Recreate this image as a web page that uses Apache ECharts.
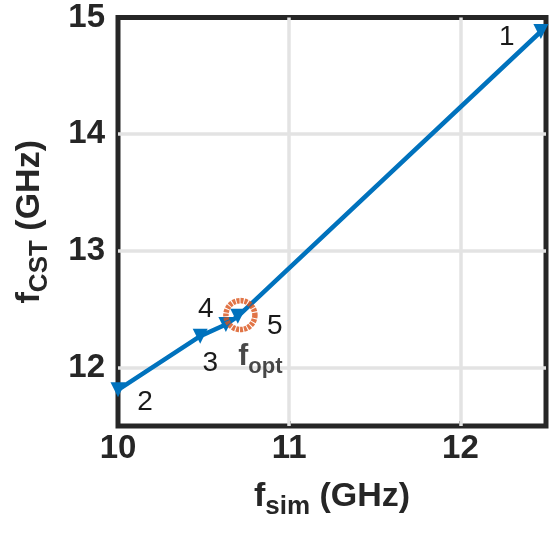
<!DOCTYPE html>
<html><head><meta charset="utf-8">
<script src="https://cdn.jsdelivr.net/npm/echarts@6/dist/echarts.min.js"></script>
<style>html,body{margin:0;padding:0;background:#fff}#c{width:553px;height:533px}</style>
</head><body><div id="c"></div>
<script>
// Data (order labels 1..5)
var pointLabels = ['1', '2', '3', '4', '5'];
var fSim = [12.47, 10.00, 10.48, 10.63, 10.70];
var fCst = [14.88, 11.81, 12.27, 12.37, 12.44];
var fOpt = [10.715, 12.45];
var xTicks = [10, 11, 12];
var yTicks = [12, 13, 14, 15];

var labelOffsets = { '1': [-34, 6], '2': [27, 12], '3': [10, 27], '4': [-20, -15], '5': [37, 10] };

var pts = pointLabels.map(function (n, i) { return { name: n, value: [fSim[i], fCst[i]] }; });
pts.sort(function (a, b) { return a.value[0] - b.value[0]; });
pts.forEach(function (p) {
  p.label = { show: true, formatter: p.name, position: 'inside', offset: labelOffsets[p.name] };
});

var FONT = '"Liberation Sans", Arial, Helvetica, sans-serif';
var ink = '#262626';
var gridCol = '#e3e3e3';
var X_MIN = 10, X_MAX = 12.5, Y_MIN = 11.5, Y_MAX = 15;
var gridLineData = []
  .concat(xTicks.filter(function (t) { return t > X_MIN && t < X_MAX; }).map(function (t) { return { xAxis: t }; }))
  .concat(yTicks.filter(function (t) { return t > Y_MIN && t < Y_MAX; }).map(function (t) { return { yAxis: t }; }));

var chart = echarts.init(document.getElementById('c'), null, { renderer: 'canvas' });
chart.setOption({
  animation: false,
  grid: { left: 118, right: 7, top: 17.5, bottom: 107, show: true, borderColor: ink, borderWidth: 5, backgroundColor: '#fff' },
  xAxis: {
    type: 'value', min: X_MIN, max: X_MAX, interval: 1,
    axisLine: { show: false },
    axisTick: { show: true, inside: true, length: 5, lineStyle: { color: ink, width: 3 } },
    splitLine: { show: false },
    axisLabel: { color: ink, fontFamily: FONT, fontWeight: 'bold', fontSize: 33, margin: 6,
      formatter: function (v) { return xTicks.indexOf(v) >= 0 ? String(v) : ''; } },
    name: '{m|f}{s|sim}{m| (GHz)}', nameLocation: 'middle', nameGap: 48,
    nameTextStyle: { rich: {
      m: { fontFamily: FONT, fontWeight: 'bold', fontSize: 34, color: ink },
      s: { fontFamily: FONT, fontWeight: 'bold', fontSize: 26, color: ink, padding: [20, 0, 0, 0] } } }
  },
  yAxis: {
    type: 'value', min: Y_MIN, max: Y_MAX, interval: 0.5,
    axisLine: { show: false },
    axisTick: { show: false },
    splitLine: { show: false },
    axisLabel: { color: ink, fontFamily: FONT, fontWeight: 'bold', fontSize: 33, margin: 13,
      formatter: function (v) { return yTicks.indexOf(v) >= 0 ? String(v) : ''; } },
    name: '{m|f}{s|CST}{m| (GHz)}', nameLocation: 'middle', nameGap: 65, nameRotate: 90,
    nameTextStyle: { rich: {
      m: { fontFamily: FONT, fontWeight: 'bold', fontSize: 34, color: ink },
      s: { fontFamily: FONT, fontWeight: 'bold', fontSize: 26, color: ink, padding: [20, 0, 0, 0] } } }
  },
  series: [
    {
      type: 'scatter', data: [], silent: true, z: 1,
      markLine: {
        z: 1, silent: true, symbol: 'none', label: { show: false },
        lineStyle: { color: gridCol, width: 3.5, type: 'solid' },
        data: gridLineData
      }
    },
    {
      type: 'line', data: pts, symbol: 'triangle', symbolRotate: 180, symbolSize: 15,
      lineStyle: { color: '#0072BD', width: 4.5 }, itemStyle: { color: '#0072BD' },
      label: { color: '#1a1a1a', fontFamily: FONT, fontSize: 28 }, z: 3
    },
    {
      type: 'scatter', data: [fOpt], symbol: 'circle', symbolSize: 29,
      itemStyle: { color: 'rgba(0,0,0,0)', borderColor: '#D95319', borderWidth: 5.5, borderType: [3, 1] },
      label: { show: true, position: 'inside', offset: [20, 42], formatter: '{m|f}{s|opt}',
        rich: { m: { fontFamily: FONT, fontWeight: 'bold', fontSize: 30, color: '#1a1a1a' },
                s: { fontFamily: FONT, fontWeight: 'bold', fontSize: 22, color: '#1a1a1a', padding: [20, 0, 0, 0] } } },
      z: 4
    }
  ]
});
</script></body></html>
